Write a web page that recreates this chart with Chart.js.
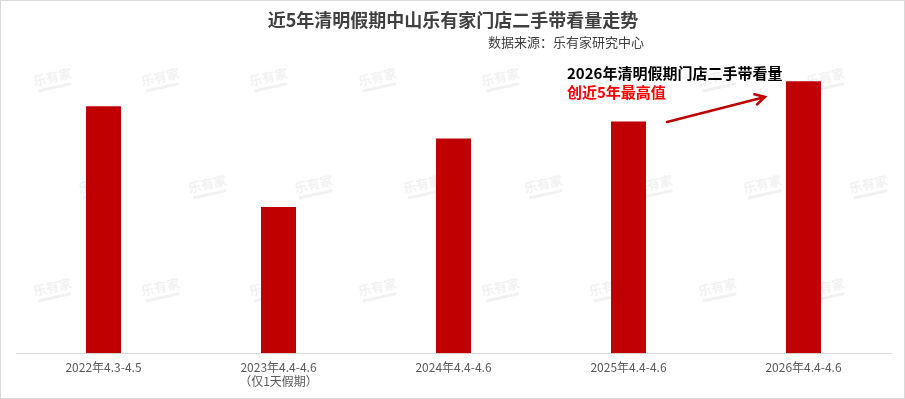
<!DOCTYPE html>
<html>
<head>
<meta charset="utf-8">
<script src="https://cdn.jsdelivr.net/npm/chart.js@4/dist/chart.umd.min.js"></script>
<style>
  html, body { margin:0; padding:0; background:#fff; }
  #wrap { width:905px; height:399px; box-sizing:border-box; border:1px solid #d9d9d9; position:relative; }
  canvas { display:block; }
</style>
</head>
<body>
<div id="wrap"><canvas id="chart" width="903" height="397"></canvas></div>
<script>
/* ------------------ Data ------------------ */
const categories = [["2022年4.3-4.5"], ["2023年4.4-4.6", "（仅1天假期）"], ["2024年4.4-4.6"], ["2025年4.4-4.6"], ["2026年4.4-4.6"]];
const viewings = [245, 145, 213, 230, 270];
const titleText = "近5年清明假期中山乐有家门店二手带看量走势";
const sourceText = "数据来源：乐有家研究中心";
const noteLines = ["2026年清明假期门店二手带看量", "创近5年最高值"];

const FONT = '"Noto Sans CJK SC", "Noto Sans", sans-serif';

/* ------------------ Watermark + title + note ------------------ */
const decor = {
  id: 'decor',
  beforeDatasetsDraw(chart) {
    const c = chart.ctx;
    const rows = [
      { y: 79, xs: [52, 160, 268, 377, 500, 608, 717, 825] },
      { y: 186, xs: [97, 207, 313, 422, 543, 653, 762, 868] },
      { y: 289, xs: [52, 160, 268, 377, 500, 608, 717, 825] }
    ];
    c.save();
    rows.forEach(r => r.xs.forEach(x => {
      c.save();
      c.translate(x, r.y);
      c.rotate(-0.22);
      c.fillStyle = 'rgba(200,200,200,0.25)';
      c.font = 'bold 13px ' + FONT;
      c.textAlign = 'center';
      c.textBaseline = 'middle';
      c.fillText('乐有家', 0, -3);
      c.fillRect(-17, 6, 34, 3);
      c.restore();
    }));
    c.restore();
  },
  afterDraw(chart) {
    const c = chart.ctx;
    c.save();
    c.textBaseline = 'middle';
    c.textAlign = 'center';
    c.fillStyle = '#404040';
    c.font = 'bold 18px ' + FONT;
    c.fillText(titleText, 452, 19);
    c.textAlign = 'right';
    c.font = '13px ' + FONT;
    c.fillStyle = '#404040';
    c.fillText(sourceText, 643, 41);

    c.textAlign = 'left';
    c.font = 'bold 15px ' + FONT;
    c.fillStyle = '#000';
    c.fillText(noteLines[0], 566, 72);
    c.fillStyle = '#ff0000';
    c.fillText(noteLines[1], 566, 91);

    // arrow from 2025 bar toward 2026 bar
    const x0 = 666, y0 = 121, x1 = 764, y1 = 96;
    c.strokeStyle = '#c00000';
    c.lineWidth = 2.5;
    c.lineCap = 'round';
    c.beginPath();
    c.moveTo(x0, y0);
    c.lineTo(x1, y1);
    const a = Math.atan2(y1 - y0, x1 - x0);
    c.moveTo(x1 - 11 * Math.cos(a - 0.5), y1 - 11 * Math.sin(a - 0.5));
    c.lineTo(x1, y1);
    c.lineTo(x1 - 11 * Math.cos(a + 0.5), y1 - 11 * Math.sin(a + 0.5));
    c.stroke();
    c.restore();
  }
};

/* ------------------ Chart ------------------ */
new Chart(document.getElementById('chart'), {
  type: 'bar',
  data: {
    labels: categories,
    datasets: [{
      data: viewings,
      backgroundColor: '#c00000',
      barPercentage: 0.2,
      categoryPercentage: 1
    }]
  },
  options: {
    responsive: false,
    animation: false,
    layout: { padding: { left: 15, right: 13, top: 60, bottom: 10 } },
    plugins: { legend: { display: false }, tooltip: { enabled: false } },
    scales: {
      x: {
        grid: { display: false },
        border: { color: '#d9d9d9', width: 1 },
        ticks: { color: '#595959', font: { family: FONT, size: 12 }, padding: -1, maxRotation: 0 }
      },
      y: {
        display: false,
        min: 0,
        max: 290
      }
    }
  },
  plugins: [decor]
});
</script>
</body>
</html>
